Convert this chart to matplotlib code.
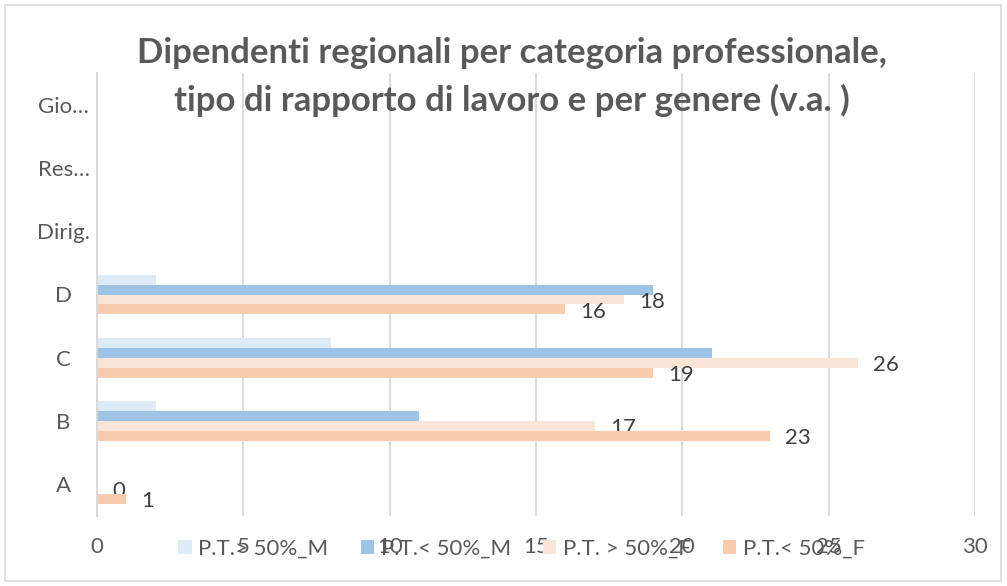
import matplotlib.pyplot as plt
from matplotlib.patches import Rectangle
import numpy as np

plt.rcParams['font.family'] = ['Lato', 'DejaVu Sans']

categories = ["A", "B", "C", "D", "Dirig.", "Res…", "Gio…"]
series_names = ["P.T.> 50%_M", "P.T.< 50%_M", "P.T. > 50%_F", "P.T.< 50%_F"]
pt_over_m = [np.nan, 2, 8, 2, np.nan, np.nan, np.nan]
pt_under_m = [np.nan, 11, 21, 19, np.nan, np.nan, np.nan]
pt_over_f = [0, 17, 26, 18, np.nan, np.nan, np.nan]
pt_under_f = [1, 23, 19, 16, np.nan, np.nan, np.nan]
series = [pt_over_m, pt_under_m, pt_over_f, pt_under_f]
colors = ["#DEEBF7", "#9DC3E6", "#FBE5D6", "#F8CBAD"]
labelled = [False, False, True, True]

grey = "#595959"
fig = plt.figure(figsize=(10.07, 5.86), dpi=100)
ax = fig.add_axes([97 / 1007, 70 / 586, 878 / 1007, 443 / 586])

y = np.arange(len(categories))
h = 0.158
offsets = [1.5 * h, 0.5 * h, -0.5 * h, -1.5 * h]
handles = []
for vals, col, off, name, lab in zip(series, colors, offsets, series_names, labelled):
    v = np.array(vals, dtype=float)
    bars = ax.barh(y + off, np.nan_to_num(v), height=h, color=col, label=name, zorder=3)
    handles.append(bars)
    if lab:
        for yi, val in zip(y, v):
            if not np.isnan(val):
                ax.annotate(f"{val:.0f}", (val, yi + off), xytext=(11, -1.5),
                            textcoords="offset points", ha="left", va="center",
                            fontsize=16, color="#404040")

ax.set_xlim(0, 30)
ax.set_ylim(-0.5, 6.5)
ax.set_xticks(np.arange(0, 31, 5))
ax.set_yticks(y)
ax.set_yticklabels(categories)
ax.xaxis.grid(True, color="#D9D9D9", linewidth=1.3, zorder=0)
ax.tick_params(axis="both", length=0, labelsize=16, labelcolor=grey)
ax.tick_params(axis="x", pad=15)
ax.tick_params(axis="y", pad=24)
for t in ax.get_yticklabels():
    t.set_ha("center")
for s in ["top", "right", "bottom"]:
    ax.spines[s].set_visible(False)
ax.spines["left"].set_color("#D9D9D9")
ax.spines["left"].set_linewidth(1.5)
ax.spines["left"].set_zorder(4)

fig.suptitle("Dipendenti regionali per categoria professionale,\ntipo di rapporto di lavoro e per genere (v.a. )",
             x=0.508, y=0.937, fontsize=25, fontweight="bold", color=grey,
             linespacing=1.55)

fig.legend(handles=handles, loc="center", bbox_to_anchor=(0.518, 1 - 549 / 586),
           ncol=4, frameon=False, fontsize=16, labelcolor=grey,
           handlelength=0.6, handleheight=0.6, handletextpad=0.3, columnspacing=1.45)

fig.patches.append(Rectangle((5 / 1007, 5 / 586), 996 / 1007, 576 / 586,
                             transform=fig.transFigure, fill=False,
                             edgecolor="#D9D9D9", linewidth=1.2))

fig.savefig("out.png", dpi=100)
